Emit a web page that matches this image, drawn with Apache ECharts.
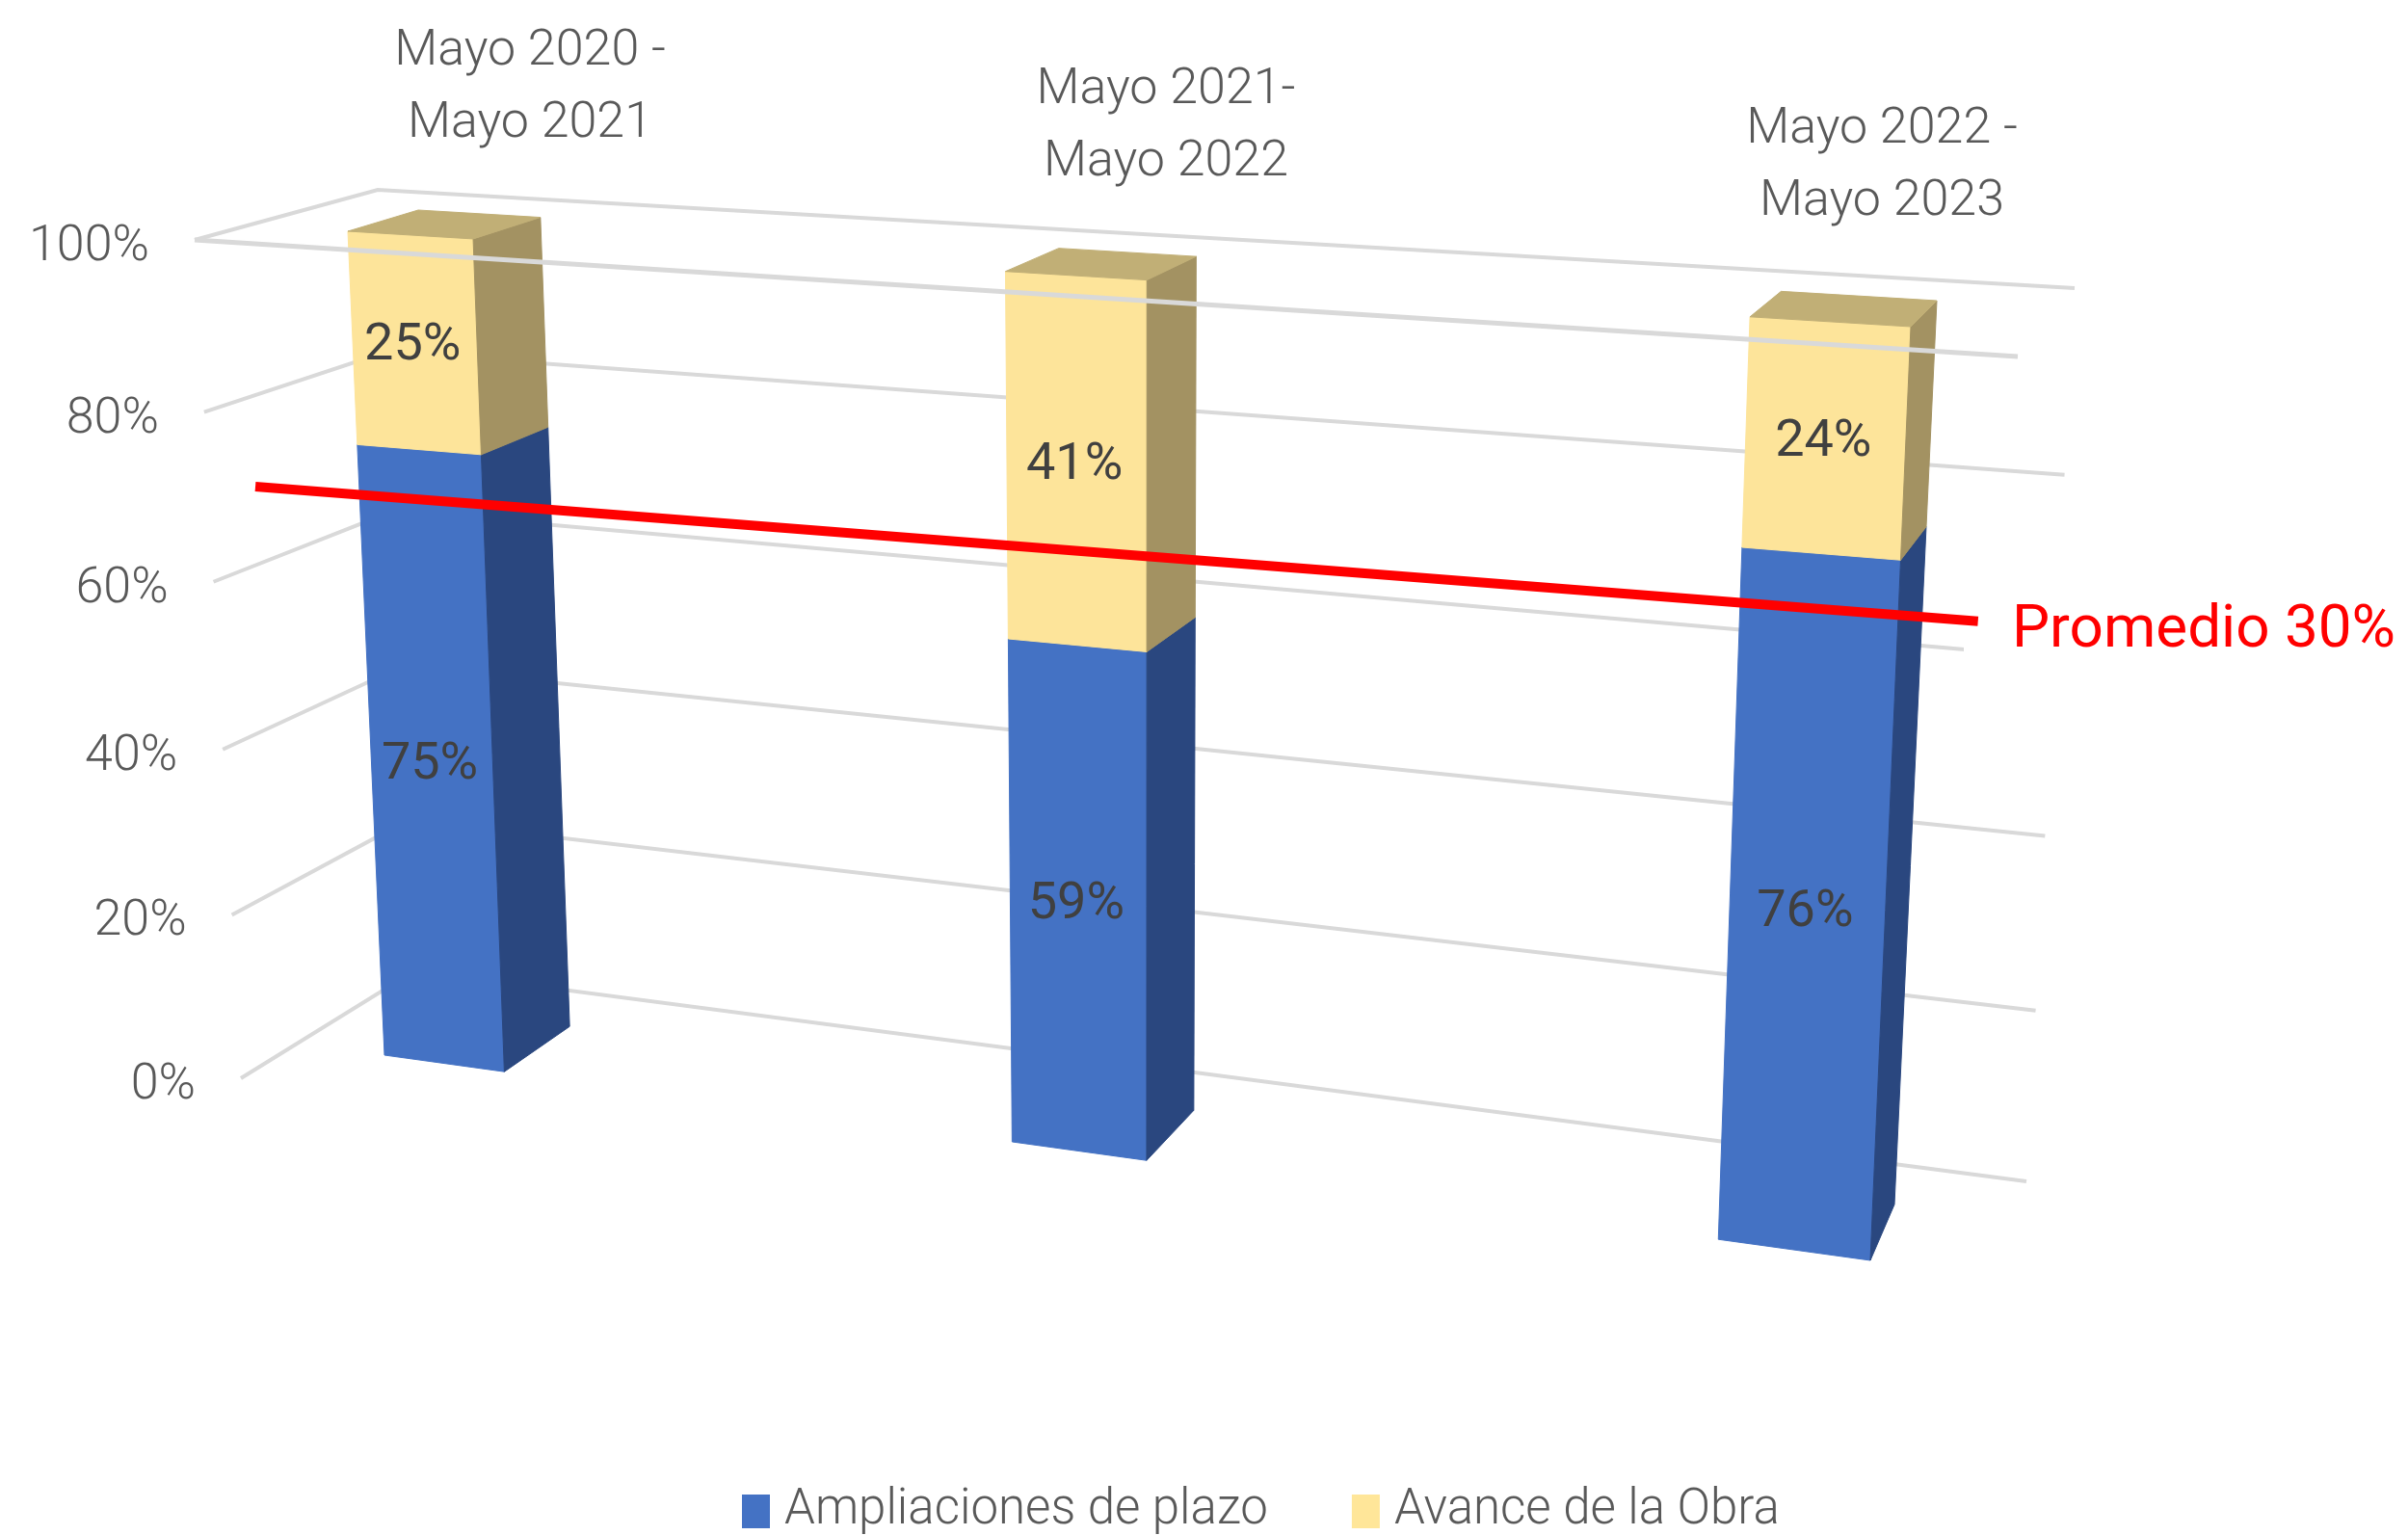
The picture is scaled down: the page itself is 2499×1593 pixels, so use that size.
<!DOCTYPE html>
<html>
<head>
<meta charset="utf-8">
<style>html,body{margin:0;padding:0;background:#fff}#main{width:2499px;height:1593px}</style>
<script src="https://cdn.jsdelivr.net/npm/echarts@6/dist/echarts.min.js"></script>
</head>
<body>
<div id="main"></div>
<script>
// datos
var categories = ['Mayo 2020 -\nMayo 2021', 'Mayo 2021-\nMayo 2022', 'Mayo 2022 -\nMayo 2023'];
var ampliaciones = [75, 59, 76];
var avance = [25, 41, 24];
var yTicks = [0, 20, 40, 60, 80, 100];
var promedio = 30;
var seriesNames = ['Ampliaciones de plazo', 'Avance de la Obra'];

// perspective planes, unit square -> screen corners [s0t0, s1t0, s1t1, s0t1]
var frontCorners = [[399, 1095], [1941, 1308], [1983, 339], [361, 240]];
var backCorners = [[470, 1049], [1966, 1250], [2010, 312], [434, 218]];
var wallCorners = [[431, 1007], [2103, 1226], [2153, 299], [392, 197]];
var sideCorners = [[250, 1119], [431, 1007], [392, 197], [202, 249]];
var frontLineEnd = [[202, 249], [2094, 370]];
var catLabelPos = [[550, 91], [1210, 131], [1953, 172]];
var barFrac = 0.2;
var font = 'Roboto';

function quad(c) {
    var x0 = c[0][0], y0 = c[0][1], x1 = c[1][0], y1 = c[1][1], x2 = c[2][0], y2 = c[2][1], x3 = c[3][0], y3 = c[3][1];
    var dx1 = x1 - x2, dx2 = x3 - x2, sx = x0 - x1 + x2 - x3;
    var dy1 = y1 - y2, dy2 = y3 - y2, sy = y0 - y1 + y2 - y3;
    var den = dx1 * dy2 - dx2 * dy1;
    var g = (sx * dy2 - dx2 * sy) / den, h = (dx1 * sy - sx * dy1) / den;
    var a = x1 - x0 + g * x1, b = x3 - x0 + h * x3, d = y1 - y0 + g * y1, e = y3 - y0 + h * y3;
    return function (s, t) {
        var w = g * s + h * t + 1;
        return [(a * s + b * t + x0) / w, (d * s + e * t + y0) / w];
    };
}
var F = quad(frontCorners), B = quad(backCorners), W = quad(wallCorners), S = quad(sideCorners);

// value -> 0..1 through the hidden axes
function tOf(api, v) {
    var yb = api.coord([0, 0])[1], yt = api.coord([0, 100])[1];
    return (yb - api.coord([0, v])[1]) / (yb - yt);
}
function sOf(api, i, off) {
    var bw = api.size([1, 0])[0];
    var x0 = api.coord([0, 0])[0] - bw * barFrac / 2;
    var x1 = api.coord([2, 0])[0] + bw * barFrac / 2;
    return (api.coord([i, 0])[0] + off * bw - x0) / (x1 - x0);
}
function poly(pts, color) {
    return {type: 'polygon', shape: {points: pts}, style: {fill: color, stroke: color, lineWidth: 1}};
}
function line(pts, color, width) {
    return {type: 'polyline', shape: {points: pts}, style: {stroke: color, fill: null, lineWidth: width}};
}
function txt(t, x, y, size, color, align, weight) {
    return {type: 'text', x: x, y: y, style: {text: t, fontFamily: font, fontSize: size, fontWeight: weight || 300, fill: color, align: align || 'center', verticalAlign: 'middle', lineHeight: 75}};
}

function barItem(frontColor, sideColor, topColor) {
    return function (params, api) {
        var i = api.value(0), base = api.value(1), val = api.value(2);
        var sL = sOf(api, i, -barFrac / 2), sR = sOf(api, i, barFrac / 2);
        var t0 = tOf(api, base), t1 = tOf(api, base + val);
        var kids = [
            poly([F(sL, t0), F(sR, t0), F(sR, t1), F(sL, t1)], frontColor),
            poly([F(sR, t0), B(sR, t0), B(sR, t1), F(sR, t1)], sideColor)
        ];
        if (topColor) {
            kids.push(poly([F(sL, t1), F(sR, t1), B(sR, t1), B(sL, t1)], topColor));
        }
        var m = F((sL + sR) / 2, (t0 + t1) / 2);
        kids.push(txt(val + '%', m[0] - 2, m[1] + 4, 54, '#404040', 'center', 400));
        return {type: 'group', children: kids};
    };
}

function gridItem(params, api) {
    var v = api.value(1), t = tOf(api, v);
    var a = S(0, t), b = W(0, t), c = W(1, t);
    return {type: 'group', children: [
        line([a, b, c], '#d9d9d9', 4),
        txt(v + '%', a[0] - 47, a[1] + 8, 52, '#595959', 'right')
    ]};
}

function overlayItem(params, api) {
    var t = tOf(api, 100 - promedio);
    var kids = [line(frontLineEnd, '#d9d9d9', 5)];
    kids.push({type: 'text', x: 2038, y: 655, style: {text: 'Promedio ' + promedio + '%', fontFamily: font, fontSize: 62, fontWeight: 400, fill: '#ff0000', align: 'left', verticalAlign: 'middle', backgroundColor: '#fff', padding: [10, 10, 10, 50]}});
    var l = F(-0.078, t), r = F(1.045, t);
    l[1] += 9; r[1] += -3;
    kids.push(line([l, r], '#ff0000', 10));
    categories.forEach(function (c, i) {
        kids.push(txt(c, catLabelPos[i][0], catLabelPos[i][1], 52, '#595959'));
    });
    return {type: 'group', children: kids};
}

var chart = echarts.init(document.getElementById('main'));
chart.setOption({
    backgroundColor: '#fff',
    animation: false,
    grid: {left: 300, right: 300, top: 200, bottom: 300},
    xAxis: {type: 'category', data: categories, show: false},
    yAxis: {type: 'value', min: 0, max: 100, interval: 20, show: false},
    legend: {
        data: seriesNames, left: 765, top: 1538, icon: 'rect', itemWidth: 29, itemHeight: 35, itemGap: 87,
        textStyle: {fontFamily: font, fontSize: 51, fontWeight: 300, color: '#595959', padding: [0, 0, 0, 10]}
    },
    series: [
        {type: 'custom', z: 1, silent: true, renderItem: gridItem, data: yTicks.map(function (v) { return [0, v]; })},
        {type: 'custom', z: 2, name: seriesNames[0], itemStyle: {color: '#4472c4'}, renderItem: barItem('#4472c4', '#2a477f'),
            data: ampliaciones.map(function (v, i) { return [i, 0, v]; })},
        {type: 'custom', z: 2, name: seriesNames[1], itemStyle: {color: '#ffe699'}, renderItem: barItem('#fde49a', '#a39262', '#c1af76'),
            data: avance.map(function (v, i) { return [i, ampliaciones[i], v]; })},
        {type: 'custom', z: 3, silent: true, renderItem: overlayItem, data: [[0, 0]]}
    ]
});
</script>
</body>
</html>
